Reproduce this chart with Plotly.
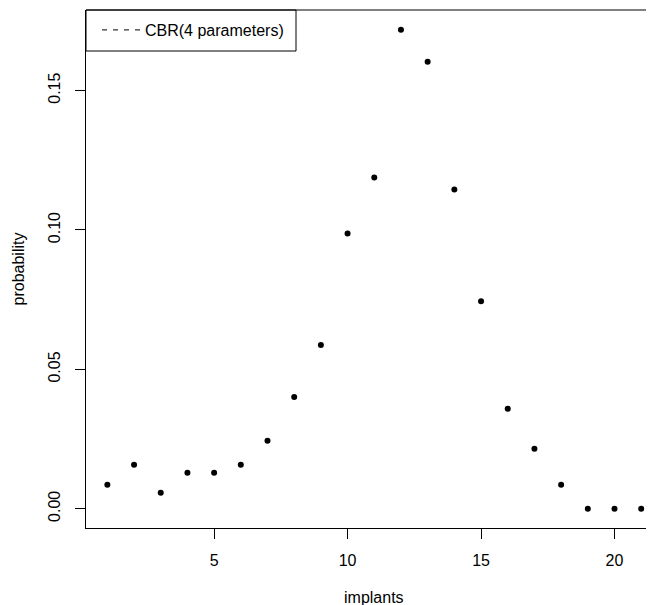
import plotly.graph_objects as go

implants = list(range(1, 22))
probability = [0.0086, 0.0158, 0.0057, 0.0129, 0.0129, 0.0158, 0.0244, 0.0401, 0.0587,
               0.0987, 0.1188, 0.1718, 0.1603, 0.1145, 0.0744, 0.0359, 0.0215, 0.0086,
               0.0, 0.0, 0.0]
legend_label = "CBR(4 parameters)"
x_ticks = [5, 10, 15, 20]
y_ticks = [0.0, 0.05, 0.10, 0.15]
y_ticklabels = ["0.00", "0.05", "0.10", "0.15"]

FONT = "Liberation Sans, Arial, Helvetica, sans-serif"
OFF = 8  # page body margin
W, H = 654 - OFF, 605 - OFF
ML, MR, MT, MB = 86 - OFF, 0, 10 - OFF, 605 - 528
PW, PH = W - ML - MR, H - MT - MB


def px_x(px):  # page pixel -> paper fraction
    return (px - OFF - ML) / PW


def px_y(py):
    return (H - MB - (py - OFF)) / PH


fig = go.Figure()
fig.add_trace(go.Scatter(
    x=implants, y=probability, mode="markers",
    marker=dict(color="black", size=6),
    showlegend=False, cliponaxis=False,
))
fig.add_trace(go.Scatter(
    x=[None], y=[None], mode="lines",
    line=dict(color="black", width=1, dash="5px,6px"),
    name=legend_label, showlegend=True,
))

fig.update_layout(
    width=W, height=H,
    margin=dict(l=ML, r=MR, t=MT, b=MB, autoexpand=False),
    paper_bgcolor="white", plot_bgcolor="white",
    font=dict(family=FONT, size=16, color="black"),
    legend=dict(
        x=px_x(97), y=px_y(13), xanchor="left", yanchor="top",
        borderwidth=0, bgcolor="rgba(0,0,0,0)",
        font=dict(size=16), itemwidth=38,
    ),
    xaxis=dict(
        range=[0.2, 21.48], tickvals=x_ticks, showgrid=False, zeroline=False,
        showline=True, linecolor="black", linewidth=1, mirror=False,
        ticks="outside", ticklen=10, tickcolor="black",
        ticklabelstandoff=8, automargin=False,
    ),
    yaxis=dict(
        range=[-0.0069, 0.1789], tickvals=y_ticks, ticktext=y_ticklabels,
        showgrid=False, zeroline=False,
        showline=True, linecolor="black", linewidth=1, mirror=False,
        ticks="outside", ticklen=10, tickcolor="black", tickangle=-90,
        ticklabelstandoff=9, automargin=False,
        title=dict(text="probability", font=dict(size=16), standoff=16),
    ),
    shapes=[
        dict(type="line", xref="paper", yref="paper", x0=0, x1=1, y0=1, y1=1,
             line=dict(color="black", width=1)),
        dict(type="rect", xref="paper", yref="paper", x0=0, x1=px_x(296),
             y0=px_y(51), y1=1, line=dict(color="black", width=1)),
    ],
    annotations=[dict(text="implants", xref="paper", yref="paper", x=px_x(374),
                      y=px_y(597), xanchor="center", yanchor="middle", showarrow=False,
                      font=dict(size=16))],
)

fig.write_html("out.html")
